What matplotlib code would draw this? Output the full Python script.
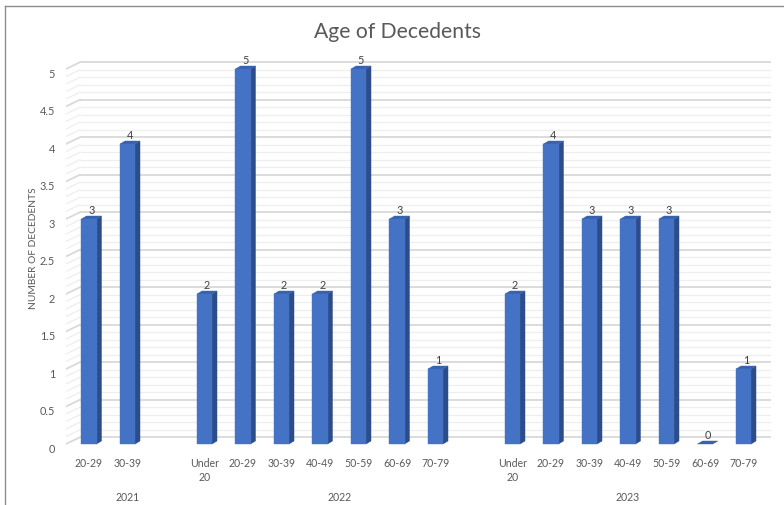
import matplotlib
matplotlib.use("Agg")
import matplotlib.pyplot as plt
from matplotlib.patches import Polygon
from matplotlib.lines import Line2D

plt.rcParams["font.family"] = ["Lato", "DejaVu Sans"]

# ---- data -------------------------------------------------------------
years = ["2021", "2022", "2023"]
labels_2021 = ["20-29", "30-39"]
values_2021 = [3, 4]
labels_2022 = ["Under\n20", "20-29", "30-39", "40-49", "50-59", "60-69", "70-79"]
values_2022 = [2, 5, 2, 2, 5, 3, 1]
labels_2023 = ["Under\n20", "20-29", "30-39", "40-49", "50-59", "60-69", "70-79"]
values_2023 = [2, 4, 3, 3, 3, 0, 1]
y_ticks = [0, 0.5, 1, 1.5, 2, 2.5, 3, 3.5, 4, 4.5, 5]
y_tick_labels = ["0", "0.5", "1", "1.5", "2", "2.5", "3", "3.5", "4", "4.5", "5"]

groups = [(years[0], labels_2021, values_2021),
          (years[1], labels_2022, values_2022),
          (years[2], labels_2023, values_2023)]

# ---- styling ----------------------------------------------------------
FRONT = "#4472C4"
SIDE = "#2C4D8A"
TOP = "#3862AE"
TEXT = "#595959"
BAR_W = 0.39          # front face width (category units)
BAR_DX, BAR_DY = 0.13, 0.04   # bar depth offset
WALL_DX, WALL_DY = 0.364, 0.09  # wall depth offset
XMIN, XMAX = -0.6, 17.72
YMIN, YMAX = -0.1, 5.2

W, H = 784, 506
fig = plt.figure(figsize=(W / 100, H / 100), dpi=100)
fig.patch.set_facecolor("white")

# axes placed so one category slot is ~38.5 px and one unit is ~75 px
px_l = 89 + XMIN * 38.5
px_r = 89 + XMAX * 38.5
py_b = 445 - YMIN * 75
py_t = 445 - YMAX * 75
ax = fig.add_axes([px_l / W, (H - py_b) / H, (px_r - px_l) / W, (py_b - py_t) / H])
ax.set_xlim(XMIN, XMAX)
ax.set_ylim(YMIN, YMAX)
ax.axis("off")

# outer chart border
fig.add_artist(Line2D([5 / W, 5 / W], [0, (H - 7) / H], color="#8C8C8C", lw=1.0))
fig.add_artist(Line2D([5 / W, 1], [(H - 7) / H, (H - 7) / H], color="#8C8C8C", lw=1.0))

# ---- walls: back-wall gridlines and left-wall diagonals ---------------
x_back_l = XMIN + WALL_DX
n_steps = 50
for i in range(n_steps + 1):
    v = i * 0.1
    major = i % 5 == 0
    col = "#D9D9D9" if major else "#EEEEEE"
    lw = 1.3 if major else 0.9
    ax.plot([x_back_l, XMAX], [v + WALL_DY, v + WALL_DY], color=col, lw=lw, zorder=1,
            solid_capstyle="butt")
    ax.plot([XMIN, x_back_l], [v, v + WALL_DY], color=col, lw=lw, zorder=1)

# y tick labels
for t, lab in zip(y_ticks, y_tick_labels):
    ax.text(XMIN - 0.28, t - 0.055, lab, ha="right", va="center", fontsize=7.8, color=TEXT)

ax.text(-1.45, 2.63, "NUMBER OF DECEDENTS", rotation=90, ha="center", va="center",
        fontsize=7.4, color=TEXT)

# ---- bars ---------------------------------------------------------------
slot = 0
group_centers = []
bars = []
for year, labs, vals in groups:
    start = slot
    for lab, v in zip(labs, vals):
        bars.append((slot, lab, v))
        slot += 1
    end = slot if year != years[-1] else slot - 1
    group_centers.append((year, (start + end) / 2))
    slot += 1  # blank slot between years

for x, lab, v in bars:
    x0, x1 = x - BAR_W / 2, x + BAR_W / 2
    # side face
    ax.add_patch(Polygon([(x1, 0), (x1 + BAR_DX, BAR_DY), (x1 + BAR_DX, v + BAR_DY), (x1, v)],
                         closed=True, facecolor=SIDE, edgecolor=SIDE, lw=0.3, zorder=3))
    # top face
    ax.add_patch(Polygon([(x0, v), (x1, v), (x1 + BAR_DX, v + BAR_DY), (x0 + BAR_DX, v + BAR_DY)],
                         closed=True, facecolor=TOP, edgecolor=TOP, lw=0.3, zorder=3))
    # front face
    if v > 0:
        ax.add_patch(Polygon([(x0, 0), (x1, 0), (x1, v), (x0, v)],
                             closed=True, facecolor=FRONT, edgecolor=FRONT, lw=0.3, zorder=4))
    # value label
    ax.text(x + BAR_DX / 2, v + 0.13, f"{v:g}", ha="center", va="center",
            fontsize=7.8, color="#404040", zorder=5)
    # category label
    ax.text(x, -0.18, lab, ha="center", va="top", fontsize=7.6, color=TEXT,
            linespacing=1.3)

for year, cx in group_centers:
    ax.text(cx, -0.70, year, ha="center", va="center", fontsize=7.6, color=TEXT)

fig.text(398 / W, (H - 32) / H, "Age of Decedents", ha="center", va="center",
         fontsize=15.2, color=TEXT)

fig.savefig("out.png", dpi=100, facecolor="white")
